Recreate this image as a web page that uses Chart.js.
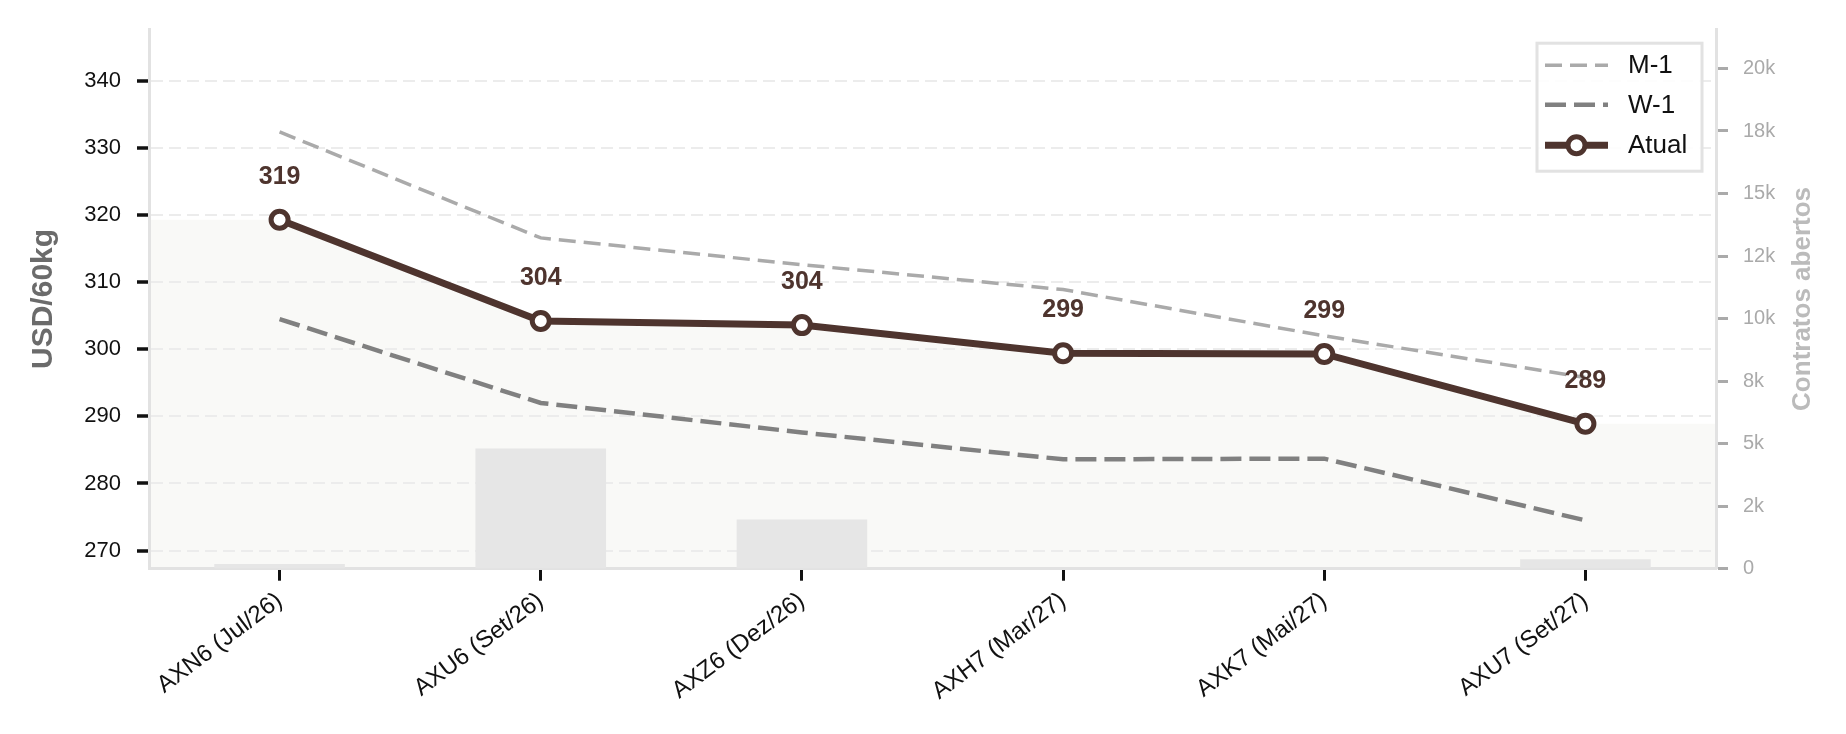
<!DOCTYPE html>
<html>
<head>
<meta charset="utf-8">
<script src="https://cdn.jsdelivr.net/npm/chart.js@4.4.1/dist/chart.umd.min.js"></script>
<style>
  html, body { margin: 0; padding: 0; background: #fff; }
  #wrap { width: 1846px; height: 734px; }
</style>
</head>
<body>
<div id="wrap"><canvas id="curveChart" width="1846" height="734"></canvas></div>
<script>
// ── data ──
const contracts    = ['AXN6 (Jul/26)', 'AXU6 (Set/26)', 'AXZ6 (Dez/26)', 'AXH7 (Mar/27)', 'AXK7 (Mai/27)', 'AXU7 (Set/27)'];
const atual        = [319.3, 304.2, 303.6, 299.4, 299.3, 288.9];
const monthAgo     = [332.4, 316.6, 312.6, 308.9, 302.0, 295.8];
const weekAgo      = [304.5, 292.0, 287.6, 283.6, 283.7, 274.5];
const openInterest = [190, 4810, 1970, 0, 0, 375];

const priceTicks      = [270, 280, 290, 300, 310, 320, 330, 340];
const oiTicks         = [0, 2500, 5000, 7500, 10000, 12500, 15000, 17500, 20000];
const oiTickLabels    = ['0', '2k', '5k', '8k', '10k', '12k', '15k', '18k', '20k'];

const BROWN = '#4e342e';
const FONT  = "'Liberation Sans', Arial, Helvetica, sans-serif";
Chart.defaults.font.family = FONT;

// light area under the current curve, flat out to both edges
const areaFill = {
  id: 'areaFill',
  beforeDraw(chart) {
    const meta = chart.getDatasetMeta(3);
    const pts = meta.data;
    if (!pts.length) return;
    const { ctx, chartArea: a } = chart;
    ctx.save();
    ctx.beginPath();
    ctx.moveTo(a.left, a.bottom);
    ctx.lineTo(a.left, pts[0].y);
    pts.forEach(p => ctx.lineTo(p.x, p.y));
    ctx.lineTo(a.right, pts[pts.length - 1].y);
    ctx.lineTo(a.right, a.bottom);
    ctx.closePath();
    ctx.fillStyle = '#f9f9f7';
    ctx.fill();
    ctx.restore();
  }
};

// value labels over the current curve
const valueLabels = {
  id: 'valueLabels',
  afterDatasetsDraw(chart) {
    const { ctx } = chart;
    const meta = chart.getDatasetMeta(3);
    ctx.save();
    ctx.fillStyle = BROWN;
    ctx.font = 'bold 25px ' + FONT;
    ctx.textAlign = 'center';
    ctx.textBaseline = 'alphabetic';
    meta.data.forEach((p, i) => {
      ctx.fillText(atual[i].toFixed(0), p.x, p.y - 36);
    });
    ctx.restore();
  }
};

// boxed legend (line handles) + right axis title reading upward
const legendAndTitle = {
  id: 'legendAndTitle',
  afterDraw(chart) {
    const { ctx, chartArea: a } = chart;
    const w = 165, h = 128;
    const x0 = a.right - 14 - w, y0 = a.top + 14;
    ctx.save();
    ctx.fillStyle = 'rgba(255,255,255,0.9)';
    ctx.fillRect(x0, y0, w, h);
    ctx.strokeStyle = '#e2e2e2';
    ctx.lineWidth = 3;
    ctx.strokeRect(x0, y0, w, h);

    const rows = [1, 2, 3];
    const rowY = [22, 61.5, 102];
    rows.forEach((di, k) => {
      const ds = chart.data.datasets[di];
      const y = y0 + rowY[k];
      ctx.beginPath();
      ctx.setLineDash(ds.borderDash || []);
      ctx.strokeStyle = ds.borderColor;
      ctx.lineWidth = ds.borderWidth;
      ctx.moveTo(x0 + 8, y);
      ctx.lineTo(x0 + 71, y);
      ctx.stroke();
      ctx.setLineDash([]);
      if (ds.pointRadius) {
        ctx.beginPath();
        ctx.arc(x0 + 39.5, y, ds.pointRadius, 0, Math.PI * 2);
        ctx.fillStyle = ds.pointBackgroundColor;
        ctx.fill();
        ctx.lineWidth = ds.pointBorderWidth;
        ctx.strokeStyle = ds.pointBorderColor;
        ctx.stroke();
      }
      ctx.fillStyle = '#111';
      ctx.font = '26px ' + FONT;
      ctx.textAlign = 'left';
      ctx.textBaseline = 'middle';
      ctx.fillText(ds.label, x0 + 91, y + 1);
    });

    ctx.translate(a.right + 87, (a.top + a.bottom) / 2);
    ctx.rotate(-Math.PI / 2);
    ctx.fillStyle = '#bbbbbb';
    ctx.font = 'bold 26px ' + FONT;
    ctx.textAlign = 'center';
    ctx.textBaseline = 'middle';
    ctx.fillText('Contratos abertos', 0, 0);
    ctx.restore();
  }
};

new Chart(document.getElementById('curveChart').getContext('2d'), {
  data: {
    labels: contracts,
    datasets: [
      {
        type: 'bar', label: 'OI', data: openInterest, yAxisID: 'y1',
        backgroundColor: '#e6e6e6', borderWidth: 0,
        barPercentage: 0.5, categoryPercentage: 1.0, order: 10
      },
      {
        type: 'line', label: 'M-1', data: monthAgo, yAxisID: 'y',
        borderColor: '#aaaaaa', borderWidth: 3.5, borderDash: [17, 8],
        pointRadius: 0, tension: 0, fill: false, order: 3
      },
      {
        type: 'line', label: 'W-1', data: weekAgo, yAxisID: 'y',
        borderColor: '#808080', borderWidth: 4.5, borderDash: [21, 8],
        pointRadius: 0, tension: 0, fill: false, order: 2
      },
      {
        type: 'line', label: 'Atual', data: atual, yAxisID: 'y',
        borderColor: BROWN, borderWidth: 7, tension: 0, fill: false,
        pointRadius: 8.5, pointBorderWidth: 5, pointBackgroundColor: '#ffffff',
        pointBorderColor: BROWN, order: 0
      }
    ]
  },
  options: {
    responsive: false,
    animation: false,
    layout: { padding: { top: 28, left: 0, right: 0, bottom: 0 } },
    plugins: { legend: { display: false }, tooltip: { enabled: false } },
    scales: {
      x: {
        type: 'category',
        offset: true,
        afterFit: s => { s.height = 165.3; },
        grid: { offset: false, drawOnChartArea: false, drawTicks: true, tickLength: 12, tickColor: '#111', tickWidth: 3 },
        border: { display: true, color: '#e2e2e2', width: 3 },
        ticks: { color: '#111', font: { size: 24 }, minRotation: 37, maxRotation: 37, padding: 6, autoSkip: false }
      },
      y: {
        position: 'left',
        min: 267.3, max: 347.7,
        afterFit: s => { s.width = 149; },
        afterBuildTicks: s => { s.ticks = priceTicks.map(v => ({ value: v })); },
        grid: { color: '#ececec', lineWidth: 2, tickLength: 12, tickColor: '#111', tickWidth: 3.5, tickBorderDash: [] },
        border: { display: true, color: '#e2e2e2', width: 3, dash: [12, 6] },
        ticks: { color: '#111', font: { size: 22 }, padding: 16 },
        title: { display: true, text: 'USD/60kg', color: '#6b6b6b', font: { size: 30, weight: 'bold' }, padding: { top: 26, bottom: 0 } }
      },
      y1: {
        position: 'right',
        min: 0, max: 21570,
        afterFit: s => { s.width = 130; },
        afterBuildTicks: s => { s.ticks = oiTicks.map(v => ({ value: v })); },
        grid: { drawOnChartArea: false, tickLength: 12, tickColor: '#aaaaaa', tickWidth: 3 },
        border: { display: true, color: '#e2e2e2', width: 3 },
        ticks: {
          color: '#aaaaaa', font: { size: 20 }, padding: 15,
          callback: (v) => oiTickLabels[oiTicks.indexOf(v)]
        }
      }
    }
  },
  plugins: [areaFill, valueLabels, legendAndTitle]
});
</script>
</body>
</html>
